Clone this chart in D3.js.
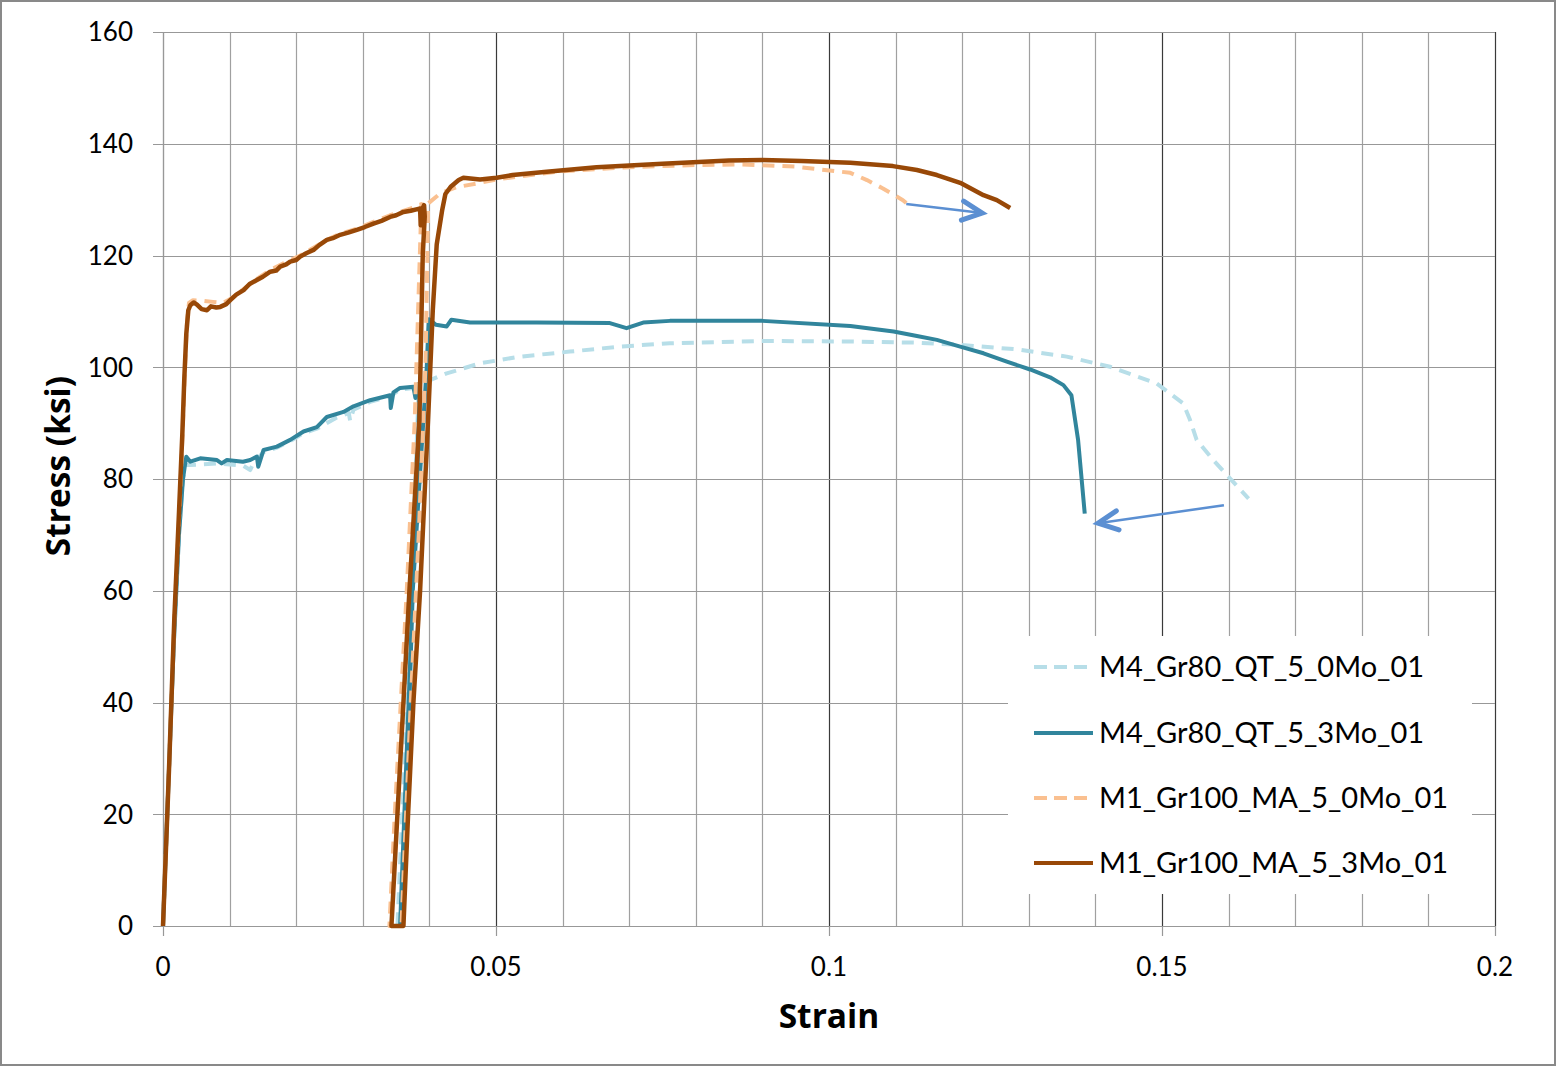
<!DOCTYPE html>
<html><head><meta charset="utf-8">
<script src="https://cdn.jsdelivr.net/npm/d3@7"></script>
<style>
html,body{margin:0;padding:0;background:#fff;}
svg{display:block;}
text{font-family:Lato,"Noto Sans",sans-serif;fill:#000;}
</style></head>
<body>
<svg id="chart" width="1557" height="1068"></svg>
<script>
// ---------- DATA ----------
const seriesNames = ["M4_Gr80_QT_5_0Mo_01","M4_Gr80_QT_5_3Mo_01","M1_Gr100_MA_5_0Mo_01","M1_Gr100_MA_5_3Mo_01"];

const m4Gr80_0Mo = [[0,0],[0.0008,25],[0.0016,50],[0.0024,70],[0.0030,80],[0.0034,82.5],[0.0041,82.5],[0.0081,82.8],[0.0120,82.4],[0.0131,81.6],[0.0136,83],[0.0151,84.8],[0.0171,85.6],[0.0191,86.8],[0.0211,88.2],[0.0231,89],[0.0261,91],[0.0279,91.8],[0.0281,90.4],[0.0286,92.4],[0.0311,93.8],[0.0341,94.8],[0.0356,96],[0.0376,96.3],[0.0384,96.5],[0.0370,50],[0.0352,0],[0.0357,0],[0.0370,40],[0.0376,60],[0.0392,90.6],[0.0396,96],[0.0401,97.7],[0.0426,98.9],[0.0476,100.7],[0.0536,101.9],[0.0611,102.8],[0.0686,103.7],[0.0761,104.3],[0.0900,104.7],[0.1032,104.6],[0.1132,104.4],[0.1197,104],[0.1282,103.2],[0.1357,101.9],[0.1422,100.1],[0.1492,97.1],[0.1532,93.5],[0.1542,90.6],[0.1552,87],[0.1577,83.4],[0.1602,80.1],[0.1630,76.5]];

const m4Gr80_3Mo = [[0,0],[0.0008,25],[0.0016,50],[0.0024,70],[0.0030,80],[0.0033,82.5],[0.0035,84],[0.0041,83.1],[0.0056,83.7],[0.0081,83.4],[0.0088,82.8],[0.0096,83.4],[0.0120,83.1],[0.0131,83.4],[0.0141,84],[0.0143,82.2],[0.0151,85.2],[0.0171,85.8],[0.0191,87],[0.0211,88.5],[0.0231,89.3],[0.0246,91.1],[0.0271,92],[0.0286,93],[0.0311,94.1],[0.0341,95],[0.0342,92.7],[0.0346,95.5],[0.0356,96.3],[0.0376,96.5],[0.0379,94.5],[0.0381,96.8],[0.0386,97.2],[0.0372,50],[0.0356,0],[0.0358,0],[0.0370,40],[0.0375,60],[0.0391,90.6],[0.0396,100],[0.0399,108.6],[0.0410,107.6],[0.0426,107.3],[0.0433,108.5],[0.0461,108],[0.0561,108],[0.0671,107.9],[0.0696,107],[0.0721,108],[0.0761,108.3],[0.0900,108.3],[0.1032,107.4],[0.1097,106.4],[0.1132,105.6],[0.1162,104.9],[0.1197,103.7],[0.1232,102.5],[0.1267,101],[0.1302,99.6],[0.1332,98.2],[0.1352,96.8],[0.1364,95],[0.1374,87],[0.1384,73.8]];

const m1Gr100_0Mo = [[0,0],[0.0009,28],[0.0017,55],[0.0025,75],[0.0030,90],[0.0033,100],[0.0036,108],[0.0039,111.5],[0.0045,112],[0.0060,111.9],[0.0075,111.7],[0.0090,111.5],[0.0101,112.2],[0.0121,114],[0.0141,115.8],[0.0161,117.4],[0.0181,118.6],[0.0206,120],[0.0226,121.4],[0.0246,122.8],[0.0266,123.9],[0.0291,124.8],[0.0316,126],[0.0341,127.2],[0.0361,128],[0.0381,128.8],[0.0388,129.2],[0.0378,90.6],[0.0366,60],[0.0357,40],[0.0348,20],[0.0340,0],[0.0358,0],[0.0372,40],[0.0384,70],[0.0394,100],[0.0397,120],[0.0398,129.3],[0.0416,131.1],[0.0440,132.2],[0.0476,133],[0.0500,133.6],[0.0600,135.1],[0.0700,135.8],[0.0800,136.2],[0.0870,136.3],[0.0950,135.9],[0.1032,134.8],[0.1057,133.5],[0.1081,132],[0.1111,129.9],[0.1116,129.4]];

const m1Gr100_3Mo = [[0,0],[0.0009,28],[0.0017,55],[0.0024,74],[0.0029,88],[0.0032,98],[0.0035,106],[0.0038,110.2],[0.0041,111.1],[0.0046,111.6],[0.0051,111.2],[0.0058,110.4],[0.0066,110.2],[0.0072,110.9],[0.0080,110.7],[0.0086,110.8],[0.0095,111.3],[0.0101,112],[0.0110,113],[0.0121,113.8],[0.0130,114.9],[0.0141,115.6],[0.0150,116.2],[0.0161,117.1],[0.0170,117.3],[0.0176,118],[0.0185,118.4],[0.0191,118.9],[0.0200,119.2],[0.0206,119.8],[0.0215,120.4],[0.0226,121],[0.0235,121.9],[0.0246,122.8],[0.0255,123.1],[0.0266,123.7],[0.0278,124.1],[0.0291,124.6],[0.0303,125.1],[0.0316,125.7],[0.0328,126.2],[0.0341,126.9],[0.0350,127.2],[0.0361,127.8],[0.0372,128],[0.0382,128.3],[0.0386,128.4],[0.0387,125.4],[0.0389,128.2],[0.0392,129],[0.0393,127],[0.0390,120],[0.0385,90.6],[0.0370,60],[0.0361,40],[0.0352,20],[0.0343,0],[0.0361,0],[0.0368,20],[0.0376,40],[0.0386,60],[0.0398,90.6],[0.0405,110],[0.0411,122],[0.0419,128],[0.0424,131],[0.0432,132.3],[0.0444,133.5],[0.0451,133.9],[0.0476,133.6],[0.0501,133.9],[0.0525,134.4],[0.0576,135],[0.0651,135.8],[0.0750,136.4],[0.0850,137],[0.0900,137.1],[0.0959,136.9],[0.1032,136.6],[0.1096,136],[0.1132,135.3],[0.1162,134.4],[0.1197,133],[0.1232,130.8],[0.1252,129.9],[0.1272,128.5]];

const yTicks = [0,20,40,60,80,100,120,140,160];
const xTicks = [0,0.05,0.1,0.15,0.2];
const xMinorTicks = [0,0.01,0.02,0.03,0.04,0.05,0.06,0.07,0.08,0.09,0.1,0.11,0.12,0.13,0.14,0.15,0.16,0.17,0.18,0.19,0.2];
// annotation arrows: [from, to] in (strain, stress)
const arrowLines = [[[0.1116,129.2],[0.1230,127.6]],[[0.1593,75.3],[0.1404,72.1]]];

// ---------- STYLE ----------
const styles = [
  {color:"#B7DEE8", width:4, dash:"12,8"},
  {color:"#31859C", width:4, dash:null},
  {color:"#FAC090", width:4, dash:"12,8"},
  {color:"#984807", width:4.5, dash:null}
];
const allSeries = [m4Gr80_0Mo, m4Gr80_3Mo, m1Gr100_0Mo, m1Gr100_3Mo];

const svg = d3.select("#chart");
const L = 163, R = 1495, T = 32, B = 926;
const x = d3.scaleLinear().domain([0,0.2]).range([L,R]);
const y = d3.scaleLinear().domain([0,160]).range([B,T]);

// outer border
svg.append("rect").attr("x",1).attr("y",1).attr("width",1554).attr("height",1064)
  .attr("fill","#fff").attr("stroke","#898989").attr("stroke-width",2);

// gridlines
const g = svg.append("g");
g.selectAll(".vminor").data(xMinorTicks).join("line")
  .attr("x1",d=>Math.round(x(d))+0.5).attr("x2",d=>Math.round(x(d))+0.5)
  .attr("y1",T).attr("y2",B)
  .attr("stroke",(d,i)=> (i%5===0 && i>0) ? "#3a3a3a" : "#a0a0a0").attr("stroke-width",1.2);
g.selectAll(".hgrid").data(yTicks).join("line")
  .attr("x1",L-10).attr("x2",R).attr("y1",d=>Math.round(y(d))+0.5).attr("y2",d=>Math.round(y(d))+0.5)
  .attr("stroke","#989898").attr("stroke-width",1.2);
// left axis line
g.append("line").attr("x1",L+0.5).attr("x2",L+0.5).attr("y1",T).attr("y2",B)
  .attr("stroke","#989898").attr("stroke-width",1.2);
// x ticks
g.selectAll(".xt").data(xTicks).join("line")
  .attr("x1",d=>Math.round(x(d))+0.5).attr("x2",d=>Math.round(x(d))+0.5)
  .attr("y1",B).attr("y2",B+10).attr("stroke","#989898").attr("stroke-width",1.2);

// tick labels
svg.selectAll(".ylab").data(yTicks).join("text")
  .attr("x",133).attr("y",d=>y(d)).attr("dy","0.36em").attr("text-anchor","end")
  .attr("font-size",26).text(d=>d);
svg.selectAll(".xlab").data(xTicks).join("text")
  .attr("x",d=>x(d)).attr("y",976).attr("text-anchor","middle")
  .attr("font-size",26).text(d=>d===0?"0":String(d));

// axis titles
svg.append("text").attr("transform","translate(69.5,466) rotate(-90)")
  .attr("text-anchor","middle").attr("font-size",33.5).attr("font-weight","bold")
  .style("font-family","'Open Sans',Lato,sans-serif").text("Stress (ksi)");
svg.append("text").attr("x",829).attr("y",1027.5)
  .attr("text-anchor","middle").attr("font-size",33.5).attr("font-weight","bold")
  .style("font-family","'Open Sans',Lato,sans-serif").text("Strain");

// series
const line = d3.line().x(d=>x(d[0])).y(d=>y(d[1]));
allSeries.forEach((s,i)=>{
  svg.append("path").datum(s).attr("d",line).attr("fill","none")
    .attr("stroke",styles[i].color).attr("stroke-width",styles[i].width)
    .attr("stroke-dasharray",styles[i].dash).attr("stroke-linejoin","round").attr("stroke-linecap","butt");
});

// arrows
const arrowColor = "#5B8FD2";
arrowLines.forEach(([a,b])=>{
  const x1=x(a[0]),y1=y(a[1]),x2=x(b[0]),y2=y(b[1]);
  svg.append("line").attr("x1",x1).attr("y1",y1).attr("x2",x2).attr("y2",y2)
    .attr("stroke",arrowColor).attr("stroke-width",2.5);
  const ang = Math.atan2(y2-y1,x2-x1), len=22, spread=0.45;
  const p1=[x2-len*Math.cos(ang-spread), y2-len*Math.sin(ang-spread)];
  const p2=[x2-len*Math.cos(ang+spread), y2-len*Math.sin(ang+spread)];
  svg.append("path").attr("d",`M${p1[0]},${p1[1]}L${x2},${y2}L${p2[0]},${p2[1]}`)
    .attr("fill","none").attr("stroke",arrowColor).attr("stroke-width",5)
    .attr("stroke-linejoin","miter").attr("stroke-linecap","round");
});

// legend
const lg = svg.append("g");
lg.append("rect").attr("x",1008).attr("y",636).attr("width",464).attr("height",258).attr("fill","#fff");
const rowY = [667,733,798,863];
seriesNames.forEach((n,i)=>{
  lg.append("line").attr("x1",1034).attr("x2",1093).attr("y1",rowY[i]).attr("y2",rowY[i])
    .attr("stroke",styles[i].color).attr("stroke-width",4)
    .attr("stroke-dasharray",styles[i].dash ? "13,7" : null);
  lg.append("text").attr("x",1099).attr("y",rowY[i]).attr("dy","0.36em")
    .attr("font-size",29).text(n);
});
</script>
</body></html>
